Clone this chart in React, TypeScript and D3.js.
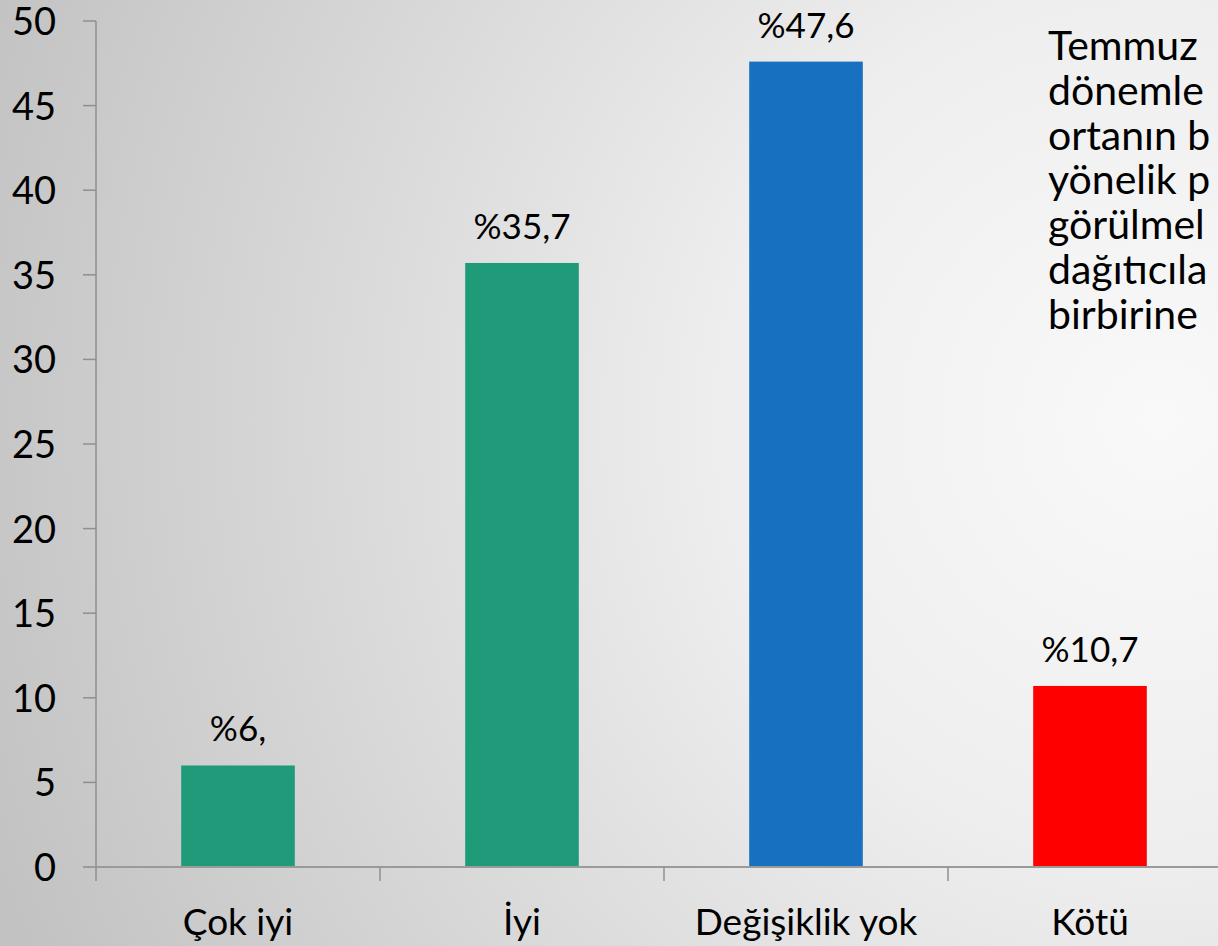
import React from "react";
import * as d3 from "d3";

const categories = ["Çok iyi", "İyi", "Değişiklik yok", "Kötü"];
const values = [6, 35.7, 47.6, 10.7];
const valueLabels = ["%6,", "%35,7", "%47,6", "%10,7"];
const barColors = ["#1f9b7a", "#1f9b7a", "#1870c0", "#ff0000"];
const yTicks = [0, 5, 10, 15, 20, 25, 30, 35, 40, 45, 50];
const sideText = ["Temmuz", "dönemle", "ortanın b", "yönelik p", "görülmel", "dağıtıcıla", "birbirine"];

const W = 1218;
const H = 946;
const FONT = "Lato, 'Open Sans', sans-serif";

export default function App() {
  const x0 = 96;
  const step = 284;
  const x = d3
    .scaleBand<string>()
    .domain(categories)
    .range([x0, x0 + step * categories.length])
    .paddingInner(0.6)
    .paddingOuter(0.3);
  const y = d3.scaleLinear().domain([0, 50]).range([867, 21]);
  const boundaries = d3.range(categories.length + 1).map((i) => x0 + i * x.step());

  return (
    <svg
      width={W}
      height={H}
      style={{ position: "absolute", left: 0, top: 0, display: "block" }}
      fontFamily={FONT}
    >
      <defs>
        <radialGradient id="bg" gradientUnits="userSpaceOnUse" cx={1160} cy={420} r={1250}>
          <stop offset="0" stopColor="#f9f9f9" />
          <stop offset="0.35" stopColor="#eeeeee" />
          <stop offset="1" stopColor="#c2c2c2" />
        </radialGradient>
      </defs>
      <rect x={0} y={0} width={W} height={H} fill="url(#bg)" />

      {/* bars */}
      {categories.map((c, i) => (
        <rect
          key={c}
          x={x(c)}
          y={y(values[i])}
          width={x.bandwidth()}
          height={y(0) - y(values[i])}
          fill={barColors[i]}
        />
      ))}

      {/* y axis */}
      <line x1={x0} x2={x0} y1={y(50)} y2={y(0)} stroke="#8f8f8f" strokeWidth={1.5} />
      {yTicks.map((t) => (
        <g key={t}>
          <line x1={x0 - 13} x2={x0} y1={y(t)} y2={y(t)} stroke="#8f8f8f" strokeWidth={1.5} />
          <text x={56} y={y(t) + 14} textAnchor="end" fontSize={38} fill="#000">
            {t}
          </text>
        </g>
      ))}

      {/* x axis */}
      <line x1={x0 - 13} x2={boundaries[boundaries.length - 1] + 20} y1={y(0)} y2={y(0)} stroke="#9a9a9a" strokeWidth={2} />
      {boundaries.map((b, i) => (
        <line key={i} x1={b} x2={b} y1={y(0)} y2={y(0) + 14} stroke="#8f8f8f" strokeWidth={1.5} />
      ))}
      {categories.map((c) => (
        <text key={c} x={(x(c) as number) + x.bandwidth() / 2} y={935} textAnchor="middle" fontSize={37} fill="#000">
          {c}
        </text>
      ))}

      {/* value labels */}
      {categories.map((c, i) => (
        <text
          key={c}
          x={(x(c) as number) + x.bandwidth() / 2}
          y={y(values[i]) - 24}
          textAnchor="middle"
          fontSize={35}
          fill="#000"
        >
          {valueLabels[i]}
        </text>
      ))}

      {/* side text */}
      {sideText.map((s, i) => (
        <text key={i} x={1048} y={60 + i * 44.8} fontSize={41} fill="#000">
          {s}
        </text>
      ))}
    </svg>
  );
}
